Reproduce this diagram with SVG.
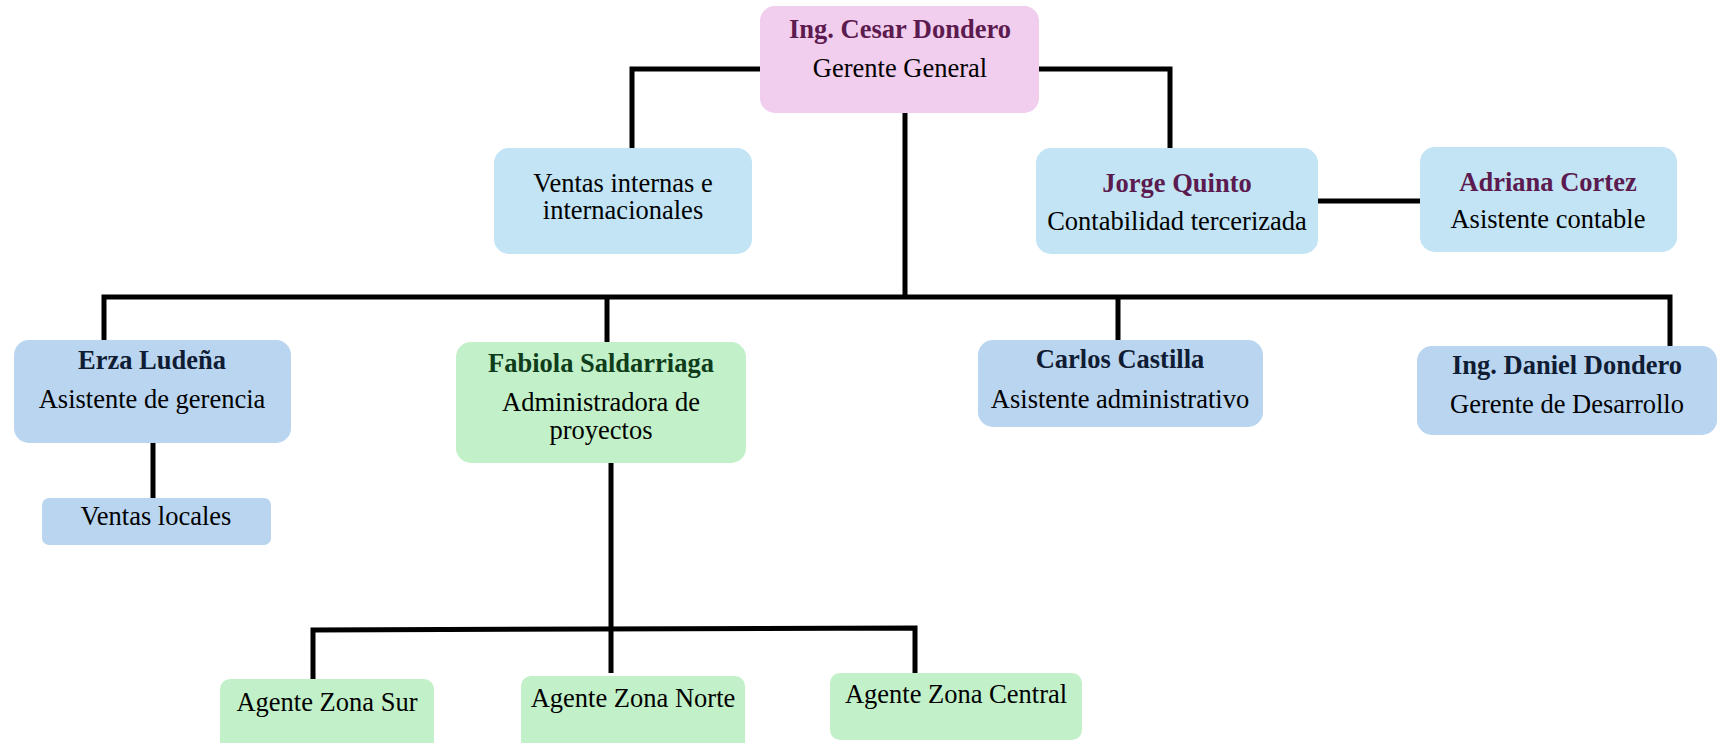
<svg xmlns="http://www.w3.org/2000/svg" width="1719" height="743" viewBox="0 0 1719 743">
<style>
.t{font-family:"Liberation Serif","Times New Roman",serif;font-size:26.5px;text-anchor:middle;fill:#000}
.b{font-weight:bold}
.pu{fill:#5c1b4f}
.nv{fill:#101c33}
.gr{fill:#0f3d1b}
.pink{fill:#f1cdee}
.lb{fill:#c2e4f5}
.bl{fill:#b9d5f0}
.gn{fill:#c2f0c8}
.c{fill:none;stroke:#000;stroke-width:5;stroke-linejoin:miter}
</style>
<rect width="1719" height="743" fill="#fff"/>
<g id="connectors">
<polyline class="c" points="760,69 632,69 632,148"/>
<polyline class="c" points="1039,69 1170,69 1170,148"/>
<line class="c" x1="905" y1="113" x2="905" y2="297"/>
<line class="c" x1="1318" y1="201" x2="1420" y2="201"/>
<polyline class="c" points="104,340 104,297 1670,297 1670,346"/>
<line class="c" x1="607" y1="297" x2="607" y2="342"/>
<line class="c" x1="1118" y1="297" x2="1118" y2="340"/>
<line class="c" x1="153" y1="443" x2="153" y2="498"/>
<line class="c" x1="611" y1="463" x2="611" y2="673"/>
<polyline class="c" points="313,679 313,630 915,628 915,673"/>
</g>
<g id="cesar"><rect class="pink" x="760" y="6" width="279" height="107" rx="15"/>
<text class="t b pu" x="900" y="38">Ing. Cesar Dondero</text>
<text class="t" x="900" y="77">Gerente General</text></g>
<g id="ventas-int"><rect class="lb" x="494" y="148" width="258" height="106" rx="15"/>
<text class="t" x="623" y="192">Ventas internas e</text>
<text class="t" x="623" y="219">internacionales</text></g>
<g id="jorge"><rect class="lb" x="1036" y="148" width="282" height="106" rx="15"/>
<text class="t b pu" x="1177" y="192">Jorge Quinto</text>
<text class="t" x="1177" y="230">Contabilidad tercerizada</text></g>
<g id="adriana"><rect class="lb" x="1420" y="147" width="257" height="105" rx="15"/>
<text class="t b pu" x="1548" y="191">Adriana Cortez</text>
<text class="t" x="1548" y="228">Asistente contable</text></g>
<g id="erza"><rect class="bl" x="14" y="340" width="277" height="103" rx="15"/>
<text class="t b nv" x="152" y="369">Erza Ludeña</text>
<text class="t" x="152" y="408">Asistente de gerencia</text></g>
<g id="ventas-loc"><rect class="bl" x="42" y="498" width="229" height="47" rx="7"/>
<text class="t" x="156" y="525">Ventas locales</text></g>
<g id="fabiola"><rect class="gn" x="456" y="342" width="290" height="121" rx="15"/>
<text class="t b gr" x="601" y="372">Fabiola Saldarriaga</text>
<text class="t" x="601" y="411">Administradora de</text>
<text class="t" x="601" y="439">proyectos</text></g>
<g id="carlos"><rect class="bl" x="978" y="340" width="285" height="87" rx="15"/>
<text class="t b nv" x="1120" y="368">Carlos Castilla</text>
<text class="t" x="1120" y="408">Asistente administrativo</text></g>
<g id="daniel"><rect class="bl" x="1417" y="346" width="300" height="89" rx="15"/>
<text class="t b nv" x="1567" y="374">Ing. Daniel Dondero</text>
<text class="t" x="1567" y="413">Gerente de Desarrollo</text></g>
<g id="sur"><rect class="gn" x="220" y="679" width="214" height="80" rx="10"/>
<text class="t" x="327" y="711">Agente Zona Sur</text></g>
<g id="norte"><rect class="gn" x="521" y="676" width="224" height="80" rx="10"/>
<text class="t" x="633" y="707">Agente Zona Norte</text></g>
<g id="central"><rect class="gn" x="830" y="673" width="252" height="67" rx="10"/>
<text class="t" x="956" y="703">Agente Zona Central</text></g>
</svg>
